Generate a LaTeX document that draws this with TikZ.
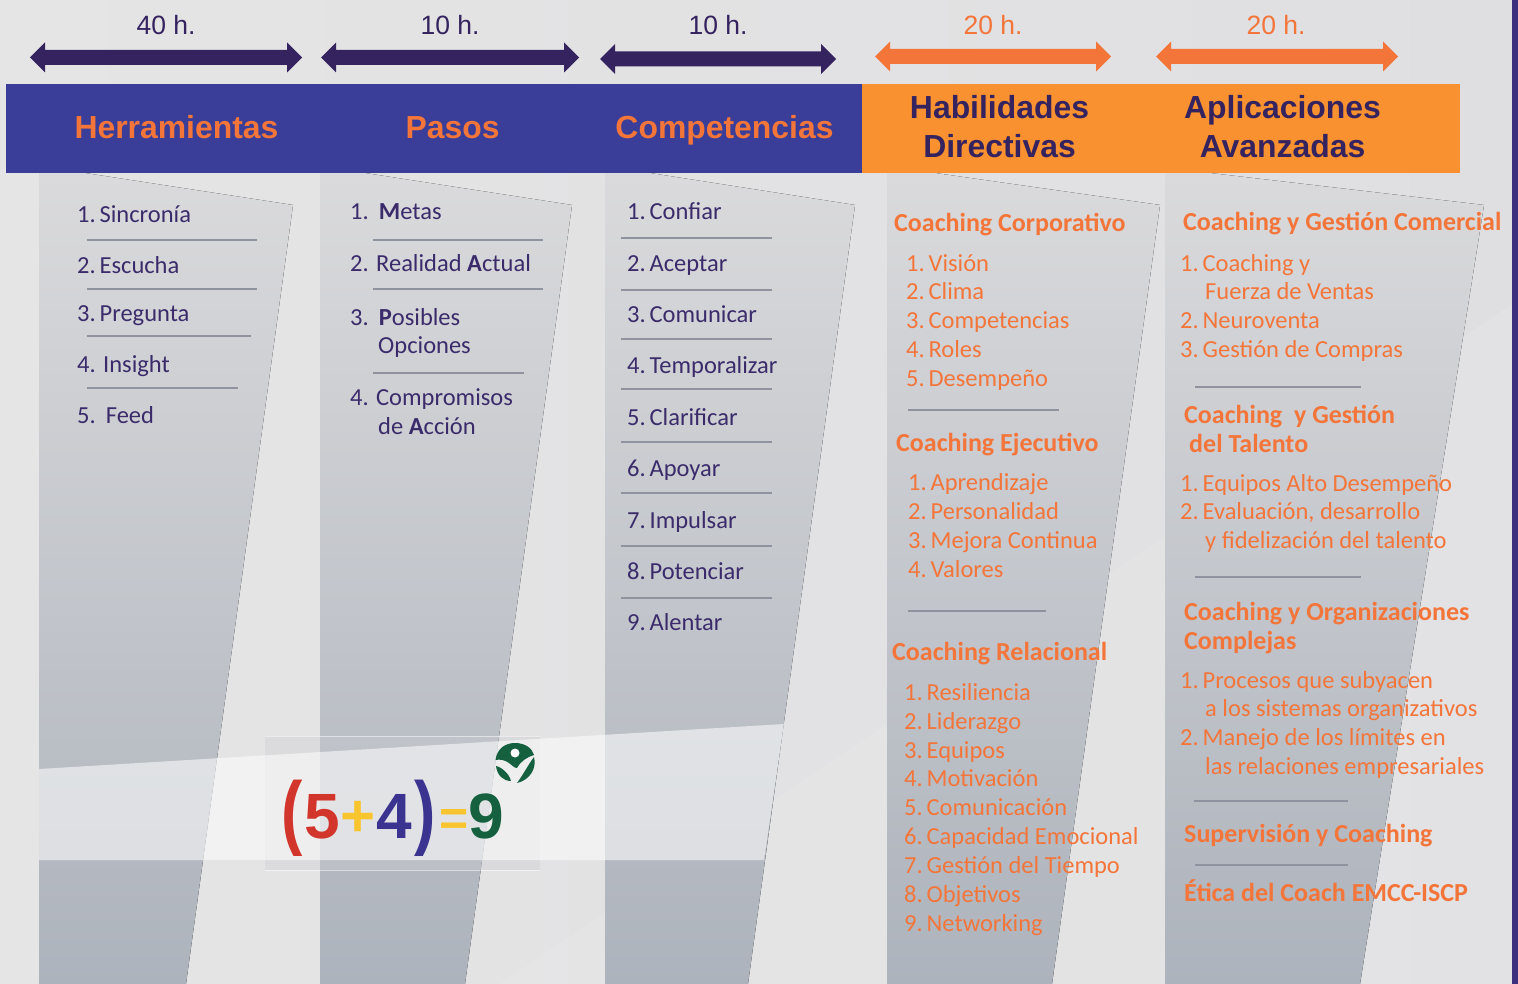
\documentclass[tikz,border=0pt]{standalone}
\usepackage{fontspec}
\usepackage{graphicx}
\setmainfont{Carlito}
\newfontfamily\hel{Liberation Sans}
\definecolor{navy}{HTML}{35235F}
\definecolor{bandblue}{HTML}{3A3E98}
\definecolor{bandorange}{HTML}{F99130}
\definecolor{arrorange}{HTML}{F47539}
\definecolor{txt}{HTML}{3B2B6B}
\definecolor{ruleg}{HTML}{8E939F}
\definecolor{logogreen}{HTML}{14603F}
\definecolor{logored}{HTML}{D2352B}
\definecolor{logoyellow}{HTML}{F8C52F}
\definecolor{logoblue}{HTML}{3A338F}
\definecolor{sidebar}{HTML}{3B2F7E}
\definecolor{bga}{HTML}{E6E5E5}
\definecolor{bgb}{HTML}{DFDEE1}
\definecolor{colt}{HTML}{DADADC}
\definecolor{colb}{HTML}{ADB3BC}
\definecolor{rectg}{HTML}{CBCBD0}
\newcommand{\gp}{\kern-1.7pt\ }
\newcommand{\gr}{\kern-3.7pt\ }
\newcommand{\gq}{\kern-1pt\ }
\tikzset{
  x=1pt,y=-1pt,
  colpoly/.style={top color=colt,bottom color=colb,draw=none},
  it/.style={anchor=base west,inner sep=0,font=\fontsize{24.5}{24.5}\selectfont,text=txt},
  ito/.style={it,text=arrorange},
  ho/.style={it,text=arrorange,font=\fontsize{26}{26}\selectfont\bfseries},
  sep/.style={draw=ruleg,line width=1.4pt},
  headb/.style={font=\hel\bfseries\fontsize{31.9}{39}\selectfont,align=center,inner sep=0},
  heads/.style={headb,anchor=base},
  hrs/.style={font=\hel\fontsize{26.5}{26.5}\selectfont,inner sep=0,anchor=base},
  glyph/.style={anchor=base,inner sep=0,font=\hel\bfseries\fontsize{#1}{#1}\selectfont},
}
\newcommand{\dbarrow}[4]{% x1,x2,y,color
  \fill[#4] (#1,#3) -- (#1+15,#3-15) -- (#1+15,#3-7.5) -- (#2-15,#3-7.5) -- (#2-15,#3-15)
    -- (#2,#3) -- (#2-15,#3+15) -- (#2-15,#3+7.5) -- (#1+15,#3+7.5) -- (#1+15,#3+15) -- cycle;}
\begin{document}
\begin{tikzpicture}
\useasboundingbox (0,0) rectangle (1518,984);
% background
\fill[left color=bga,right color=bgb] (0,0) rectangle (1518,984);
\fill[white,opacity=.1] (1518,984) -- (1518,300) -- (500,984) -- cycle;
% columns
\fill[colpoly] (39,173) -- (85,173) -- (293,205) -- (186,984) -- (39,984) -- cycle;
\fill[colpoly] (320,173) -- (365,173) -- (572,205) -- (465,984) -- (320,984) -- cycle;
\fill[colpoly] (605,173) -- (650,173) -- (855,205) -- (748,984) -- (605,984) -- cycle;
\fill[colpoly] (887,173) -- (935,173) -- (1160,205) -- (1052,984) -- (887,984) -- cycle;
\fill[colpoly] (1165,173) -- (1210,173) -- (1484,205) -- (1360,984) -- (1165,984) -- cycle;
% right bar
\fill[sidebar] (1512,0) rectangle (1518,984);
% header bands
\fill[bandblue] (6,84) rectangle (862,173);
\fill[bandorange] (862,84) rectangle (1460,173);
\node[heads,text=arrorange] (h1) at (176.5,139) {Herramientas};
\node[heads,text=arrorange] (h2) at (452.5,139) {Pasos};
\node[heads,text=arrorange] (h3) at (724.5,139) {Competencias};
\node[headb,text=navy] (h4) at (999.5,127) {Habilidades\\Directivas};
\node[headb,text=navy] (h5) at (1282.5,127) {Aplicaciones\\Avanzadas};
% arrows
\dbarrow{30}{302}{57.5}{navy}
\dbarrow{321}{579}{57.5}{navy}
\dbarrow{600}{836}{59}{navy}
\dbarrow{875}{1111}{56.5}{arrorange}
\dbarrow{1156}{1398}{56.5}{arrorange}
\node[hrs,text=navy] (t1) at (166,35) {40 h.};
\node[hrs,text=navy] (t2) at (450,35) {10 h.};
\node[hrs,text=navy] (t3) at (718,35) {10 h.};
\node[hrs,text=arrorange] (t4) at (993,35) {20 h.};
\node[hrs,text=arrorange] (t5) at (1276,35) {20 h.};
% column 1
\node[it] at (77,223) {1.\gp Sincronía};
\draw[sep] (87,240) -- (257,240);
\node[it] at (77,274) {2.\gp Escucha};
\draw[sep] (87,289) -- (257,289);
\node[it] at (77,322) {3.\gp Pregunta};
\draw[sep] (87,336) -- (251,336);
\node[it] at (77,372) {4.\ \gr Insight};
\draw[sep] (87,388) -- (238,388);
\node[it] at (77,423) {5.\ \gq Feed};
% column 2
\node[it] at (350,220) {1.\ \gq\textbf{M}etas};
\draw[sep] (373,240) -- (543,240);
\node[it] at (350,272) {2.\ \gr Realidad \textbf{A}ctual};
\draw[sep] (373,289) -- (543,289);
\node[it] at (350,326) {3.\ \gq\textbf{P}osibles};
\node[it] at (378,353) {Opciones};
\draw[sep] (373,373) -- (524,373);
\node[it] at (350,405) {4.\ \gr Compromisos};
\node[it] at (378,434) {de \textbf{A}cción};
% column 3
\node[it] at (627,220) {1.\gp Confiar};
\draw[sep] (621,238) -- (772,238);
\node[it] at (627,272) {2.\gp Aceptar};
\draw[sep] (621,290) -- (772,290);
\node[it] at (627,323) {3.\gp Comunicar};
\draw[sep] (621,339) -- (772,339);
\node[it] at (627,373) {4.\gp Temporalizar};
\draw[sep] (621,389) -- (772,389);
\node[it] at (627,425) {5.\gp Clarificar};
\draw[sep] (621,442) -- (772,442);
\node[it] at (627,476) {6.\gp Apoyar};
\draw[sep] (621,493) -- (772,493);
\node[it] at (627,528) {7.\gp Impulsar};
\draw[sep] (621,546) -- (772,546);
\node[it] at (627,579) {8.\gp Potenciar};
\draw[sep] (621,598) -- (772,598);
\node[it] at (627,630) {9.\gp Alentar};
% column 4
\node[ho] at (894,232) {Coaching Corporativo};
\node[ito] at (906,272) {1.\gp Visión};
\node[ito] at (906,300) {2.\gp Clima};
\node[ito] at (906,328) {3.\gp Competencias};
\node[ito] at (906,357) {4.\gp Roles};
\node[ito] at (906,386) {5.\gp Desempeño};
\draw[sep] (908,410) -- (1059,410);
\node[ho] at (896,451) {Coaching Ejecutivo};
\node[ito] at (908,490) {1.\gp Aprendizaje};
\node[ito] at (908,519) {2.\gp Personalidad};
\node[ito] at (908,548) {3.\gp Mejora Continua};
\node[ito] at (908,577) {4.\gp Valores};
\draw[sep] (908,611) -- (1046,611);
\node[ho] at (892,660) {Coaching Relacional};
\node[ito] at (904,700) {1.\gp Resiliencia};
\node[ito] at (904,729) {2.\gp Liderazgo};
\node[ito] at (904,758) {3.\gp Equipos};
\node[ito] at (904,786) {4.\gp Motivación};
\node[ito] at (904,815) {5.\gp Comunicación};
\node[ito] at (904,844) {6.\gp Capacidad Emocional};
\node[ito] at (904,873) {7.\gp Gestión del Tiempo};
\node[ito] at (904,902) {8.\gp Objetivos};
\node[ito] at (904,931) {9.\gp Networking};
% column 5
\node[ho] at (1183,231) {Coaching y Gestión Comercial};
\node[ito] at (1180,272) {1.\gp Coaching y};
\node[ito] at (1205,300) {Fuerza de Ventas};
\node[ito] at (1180,328) {2.\gp Neuroventa};
\node[ito] at (1180,357) {3.\gp Gestión de Compras};
\draw[sep] (1195,387) -- (1361,387);
\node[ho] at (1184,423) {Coaching\ \ y Gestión};
\node[ho] at (1189,452) {del Talento};
\node[ito] at (1180,491) {1.\gp Equipos Alto Desempeño};
\node[ito] at (1180,519) {2.\gp Evaluación, desarrollo};
\node[ito] at (1205,548) {y fidelización del talento};
\draw[sep] (1195,577) -- (1361,577);
\node[ho] at (1184,620) {Coaching y Organizaciones};
\node[ho] at (1184,649) {Complejas};
\node[ito] at (1180,688) {1.\gp Procesos que subyacen};
\node[ito] at (1205,716) {a los sistemas organizativos};
\node[ito] at (1180,745) {2.\gp Manejo de los límites en};
\node[ito] at (1205,774) {las relaciones empresariales};
\draw[sep] (1194,801) -- (1348,801);
\node[ho] at (1184,842) {Supervisión y Coaching};
\draw[sep] (1195,865) -- (1348,865);
\node[ho] at (1184,901) {Ética del Coach EMCC-ISCP};
% logo rectangle and band
\fill[rectg,opacity=.37] (265,736) rectangle (540,870);
\draw[white,opacity=.5,line width=.8pt] (265,736) -- (540,736) (265,870) -- (540,870);
\fill[white,opacity=.55] (39,769) -- (784,724) -- (764,860) -- (39,860) -- cycle;
% logo formula
\node[glyph=82,text=logored] at (292,839) {\scalebox{.78}[1]{(}};
\node[glyph=64,text=logored] at (322,838) {5};
\node[glyph=60,text=logoyellow] at (358,836) {+};
\node[glyph=64,text=logoblue] at (394.5,838) {4};
\node[glyph=82,text=logoblue] at (425,839) {\scalebox{.78}[1]{)}};
\node[glyph=50,text=logoyellow] at (454,835) {=};
\node[glyph=64,text=logogreen] at (486,838) {9};
% logo icon
\fill[logogreen] (495.5,760) .. controls (497,748) and (506,743) .. (515,743) .. controls (525,743) and (532,748) .. (534,755) .. controls (527,757) and (521,761) .. (517,768) .. controls (514,768) and (512,765) .. (509,763) .. controls (505,760) and (500,759) .. (495.5,760) -- cycle;
\fill[white] (515,753) circle (4.5);
\fill[logogreen] (496,766) .. controls (501,767) and (509,773) .. (511,781) .. controls (503,781) and (497,775) .. (496,766) -- cycle;
\fill[logogreen] (534,757) .. controls (537,768) and (530,780) .. (517,783) .. controls (523,775) and (528,765) .. (534,757) -- cycle;
\end{tikzpicture}
\end{document}
